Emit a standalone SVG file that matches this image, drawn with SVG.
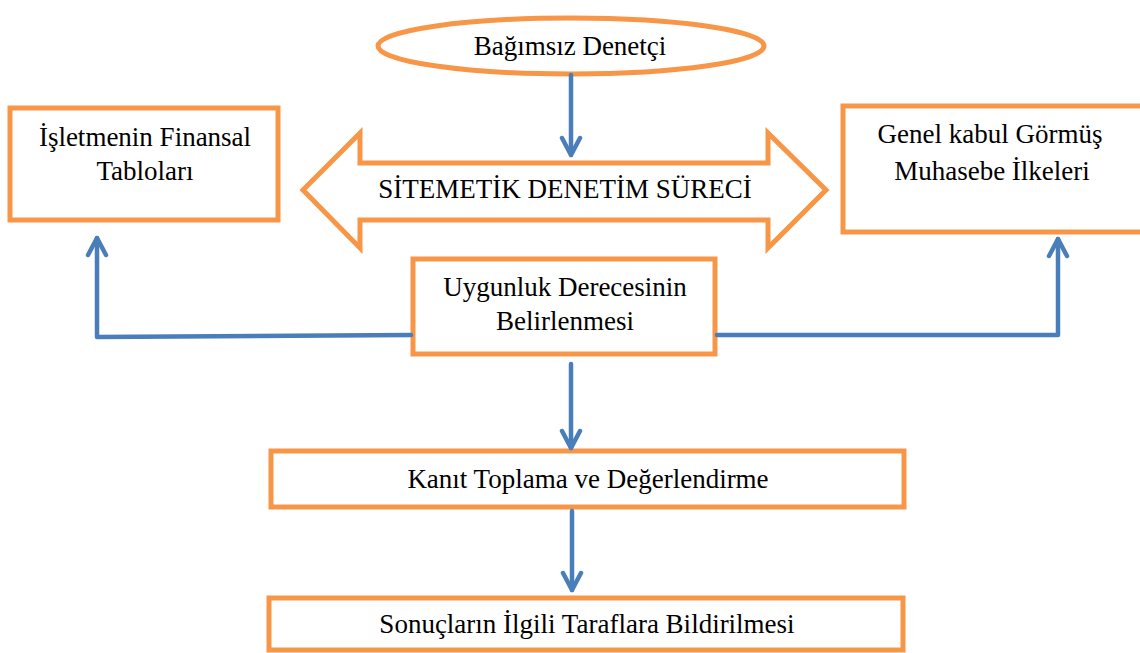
<svg xmlns="http://www.w3.org/2000/svg" width="1140" height="653" viewBox="0 0 1140 653">
<defs>
<style>
.shape{fill:#ffffff;stroke:#F79646;stroke-width:5}
.conn{fill:none;stroke:#4A7EBB;stroke-width:4.5;stroke-linecap:round;stroke-linejoin:round}
.t{font-family:"Liberation Serif","Times New Roman",serif;font-size:27px;fill:#000;text-anchor:middle}
</style>
<marker id="ah2" viewBox="0 0 24 24" refX="21" refY="12" markerWidth="24" markerHeight="24" markerUnits="userSpaceOnUse" orient="auto">
<polyline points="4,3 21,12 4,21" fill="none" stroke="#4A7EBB" stroke-width="4.5" stroke-linecap="round" stroke-linejoin="round"/>
</marker>
</defs>
<g id="n-denetci">
<ellipse class="shape" cx="571" cy="46" rx="193" ry="28"/>
<text class="t" x="570" y="55">Bağımsız Denetçi</text>
</g>
<g id="n-surec">
<polygon class="shape" points="303,190 360,133 360,163 768,163 768,133 826,190 768,248 768,220 360,220 360,248"/>
<text class="t" x="565" y="198">SİTEMETİK DENETİM SÜRECİ</text>
</g>
<g id="n-finansal">
<rect class="shape" x="10" y="108" width="268" height="112"/>
<text class="t" x="145" y="146">İşletmenin Finansal</text>
<text class="t" x="145" y="180">Tabloları</text>
</g>
<g id="n-ilkeler">
<rect class="shape" x="843" y="106" width="305" height="126"/>
<text class="t" x="990" y="143">Genel kabul Görmüş</text>
<text class="t" x="992" y="180">Muhasebe İlkeleri</text>
</g>
<g id="n-uygunluk">
<rect class="shape" x="413" y="259" width="302" height="95"/>
<text class="t" x="565" y="296">Uygunluk Derecesinin</text>
<text class="t" x="565" y="330">Belirlenmesi</text>
</g>
<g id="n-kanit">
<rect class="shape" x="271" y="451" width="633" height="56"/>
<text class="t" x="588" y="488">Kanıt Toplama ve Değerlendirme</text>
</g>
<g id="n-sonuc">
<rect class="shape" x="269" y="598" width="634" height="52"/>
<text class="t" x="587" y="633">Sonuçların İlgili Taraflara Bildirilmesi</text>
</g>
<g id="connectors">
<line class="conn" x1="571" y1="75" x2="571" y2="155" marker-end="url(#ah2)"/>
<polyline class="conn" points="411,335 97,337 97,238" marker-end="url(#ah2)"/>
<polyline class="conn" points="717,335 1058,335 1058,239" marker-end="url(#ah2)"/>
<line class="conn" x1="571" y1="364" x2="571" y2="448" marker-end="url(#ah2)"/>
<line class="conn" x1="572" y1="511" x2="572" y2="590" marker-end="url(#ah2)"/>
</g>
</svg>
